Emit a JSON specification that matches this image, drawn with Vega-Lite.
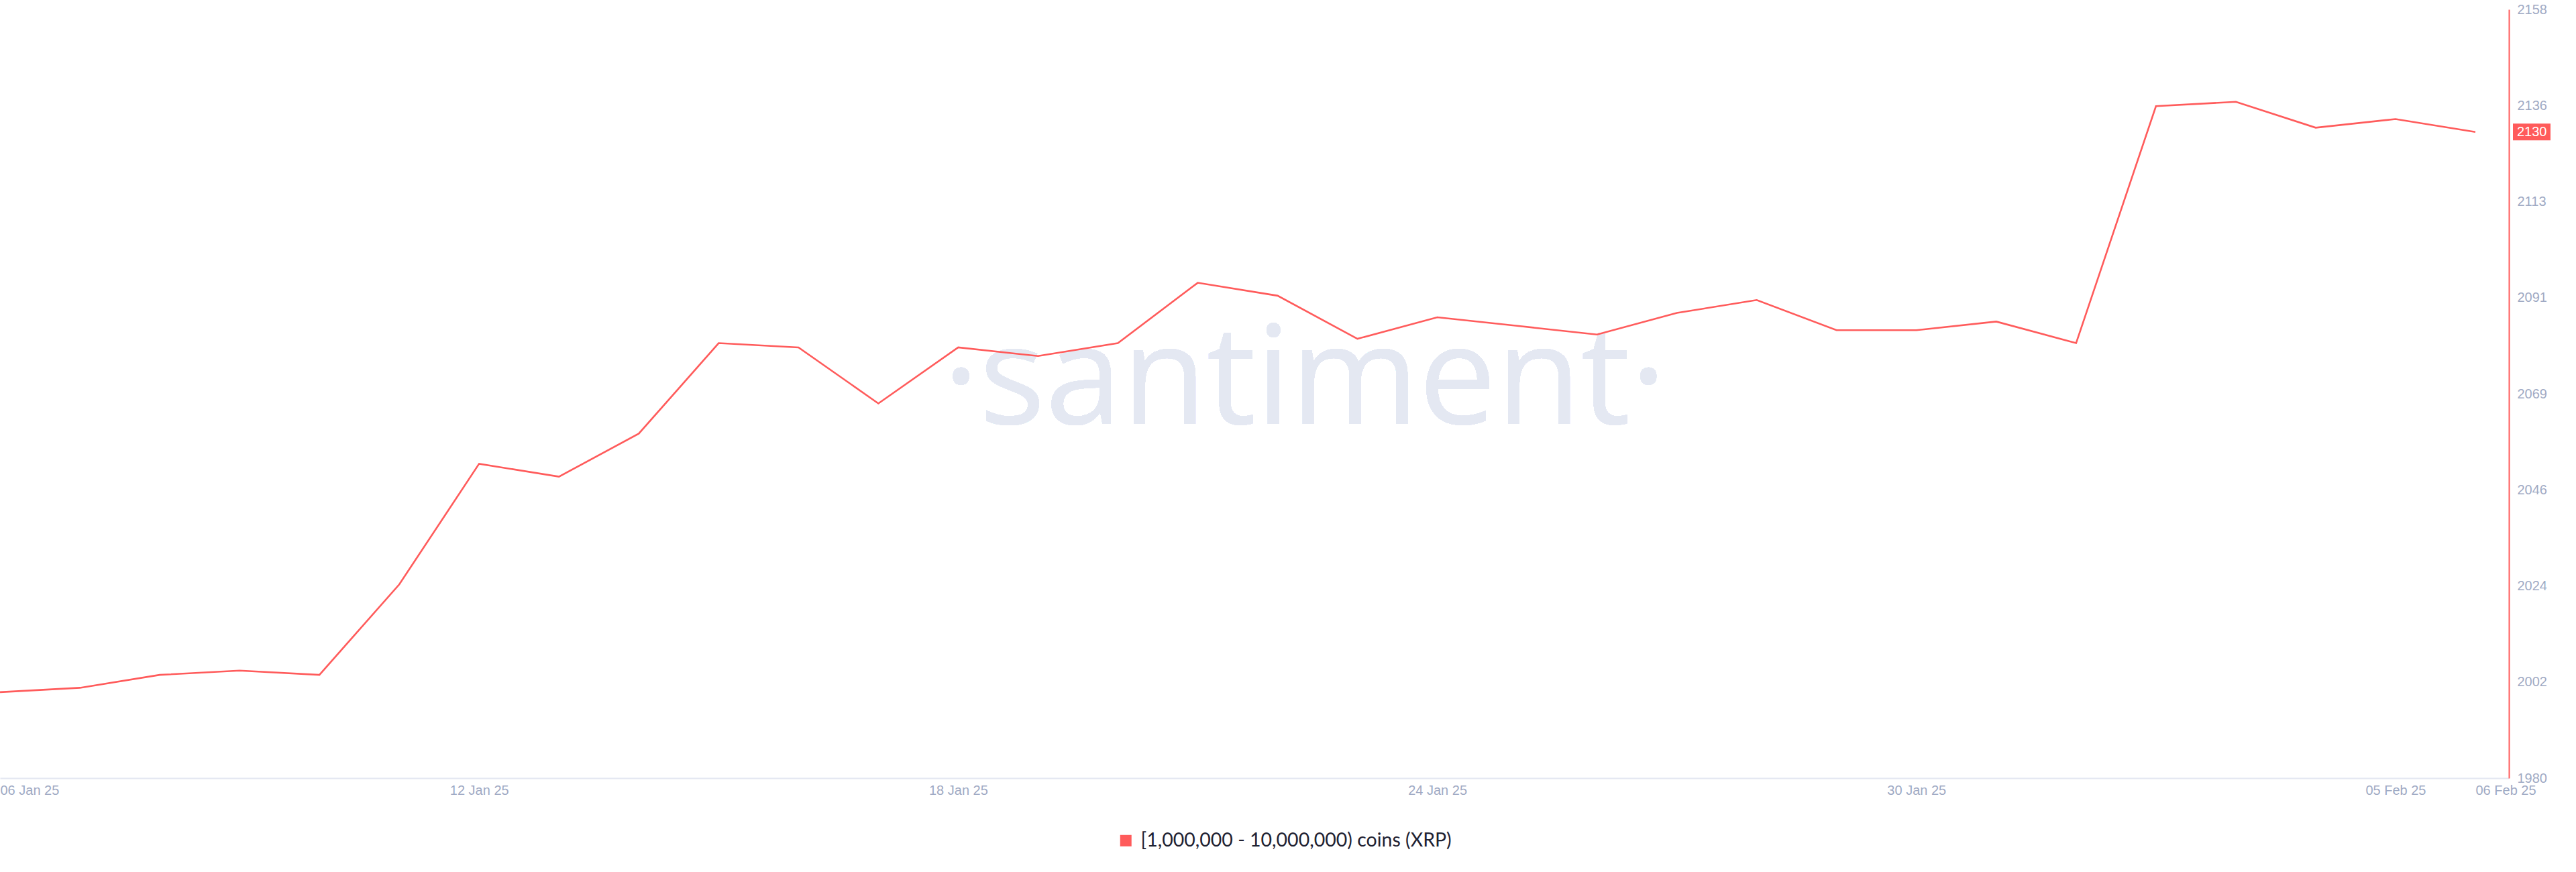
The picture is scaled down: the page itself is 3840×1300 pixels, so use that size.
{
  "$schema": "https://vega.github.io/schema/vega-lite/v6.json",
  "width": 3740,
  "height": 1146,
  "autosize": {"type": "none"},
  "padding": {"left": 0, "top": 14, "right": 100, "bottom": 140},
  "background": "white",
  "data": {
    "values": [
      {"date": "2025-01-06", "value": 2000},
      {"date": "2025-01-07", "value": 2001},
      {"date": "2025-01-08", "value": 2004},
      {"date": "2025-01-09", "value": 2005},
      {"date": "2025-01-10", "value": 2004},
      {"date": "2025-01-11", "value": 2025},
      {"date": "2025-01-12", "value": 2053},
      {"date": "2025-01-13", "value": 2050},
      {"date": "2025-01-14", "value": 2060},
      {"date": "2025-01-15", "value": 2081},
      {"date": "2025-01-16", "value": 2080},
      {"date": "2025-01-17", "value": 2067},
      {"date": "2025-01-18", "value": 2080},
      {"date": "2025-01-19", "value": 2078},
      {"date": "2025-01-20", "value": 2081},
      {"date": "2025-01-21", "value": 2095},
      {"date": "2025-01-22", "value": 2092},
      {"date": "2025-01-23", "value": 2082},
      {"date": "2025-01-24", "value": 2087},
      {"date": "2025-01-25", "value": 2085},
      {"date": "2025-01-26", "value": 2083},
      {"date": "2025-01-27", "value": 2088},
      {"date": "2025-01-28", "value": 2091},
      {"date": "2025-01-29", "value": 2084},
      {"date": "2025-01-30", "value": 2084},
      {"date": "2025-01-31", "value": 2086},
      {"date": "2025-02-01", "value": 2081},
      {"date": "2025-02-02", "value": 2136},
      {"date": "2025-02-03", "value": 2137},
      {"date": "2025-02-04", "value": 2131},
      {"date": "2025-02-05", "value": 2133},
      {"date": "2025-02-06", "value": 2130}
    ]
  },
  "encoding": {
    "x": {
      "field": "date",
      "type": "temporal",
      "title": null,
      "scale": {
        "type": "utc",
        "domain": [
          {"year": 2025, "month": 1, "date": 6, "utc": true},
          {"year": 2025, "month": 2, "date": 6, "hours": 10, "minutes": 5, "utc": true}
        ]
      },
      "axis": {
        "values": [
          {"year": 2025, "month": 1, "date": 6, "utc": true},
          {"year": 2025, "month": 1, "date": 12, "utc": true},
          {"year": 2025, "month": 1, "date": 18, "utc": true},
          {"year": 2025, "month": 1, "date": 24, "utc": true},
          {"year": 2025, "month": 1, "date": 30, "utc": true},
          {"year": 2025, "month": 2, "date": 5, "utc": true},
          {"year": 2025, "month": 2, "date": 6, "utc": true}
        ],
        "format": "%d %b %y",
        "grid": false,
        "ticks": false,
        "domainColor": "#e3e7f1",
        "domainWidth": 2,
        "labelColor": "#9faac4",
        "labelFont": "Liberation Sans",
        "labelFontSize": 20,
        "labelPadding": 8,
        "labelOverlap": false,
        "labelFlush": false,
        "labelAlign": {
          "condition": {"test": "datum.value < utc(2025, 0, 7) || datum.value >= utc(2025, 1, 6)", "value": "left"},
          "value": "center"
        }
      }
    },
    "y": {
      "field": "value",
      "type": "quantitative",
      "title": null,
      "scale": {"domain": [1980.05, 2158.45], "nice": false, "zero": false},
      "axis": {
        "orient": "right",
        "values": [1980.05, 2002.35, 2024.65, 2046.95, 2069.25, 2091.55, 2113.85, 2136.15, 2158.45],
        "labelExpr": "floor(datum.value)",
        "grid": false,
        "ticks": false,
        "domainColor": "#ff5b5b",
        "domainWidth": 2,
        "labelColor": "#9faac4",
        "labelFont": "Liberation Sans",
        "labelFontSize": 20,
        "labelPadding": 12,
        "labelAlign": "left",
        "labelBaseline": "middle",
        "labelOverlap": false,
        "labelFlush": false
      }
    }
  },
  "layer": [
    {
      "mark": {
        "type": "text",
        "font": "Open Sans",
        "fontSize": 206,
        "color": "#e4e8f2",
        "align": "center",
        "baseline": "alphabetic"
      },
      "encoding": {
        "x": {"datum": {"year": 2025, "month": 1, "date": 22, "hours": 8, "minutes": 10, "utc": true}, "type": "temporal"},
        "y": {"datum": 2062.2},
        "text": {"value": "·santiment·"}
      }
    },
    {
      "mark": {"type": "line", "strokeWidth": 2.6, "interpolate": "linear"},
      "encoding": {
        "color": {
          "datum": "[1,000,000 - 10,000,000) coins (XRP)",
          "scale": {"range": ["#ff5b5b"]},
          "legend": {
            "orient": "none",
            "legendX": 1664,
            "legendY": 1225,
            "title": null,
            "symbolType": "square",
            "symbolSize": 289,
            "symbolFillColor": "#ff5b5b",
            "symbolStrokeWidth": 0,
            "labelFont": "Lato",
            "labelFontSize": 28.5,
            "labelColor": "#1f2232",
            "labelOffset": 8,
            "labelLimit": 0
          }
        }
      }
    },
    {
      "transform": [{"filter": "time(datum.date) === utc(2025, 1, 6)"}],
      "mark": {
        "type": "point",
        "filled": true,
        "opacity": 1,
        "color": "#ff5b5b",
        "size": 4,
        "shape": "M6,-12.5L62,-12.5L62,12.5L6,12.5Z"
      },
      "encoding": {
        "x": {"datum": {"year": 2025, "month": 2, "date": 6, "hours": 10, "minutes": 5, "utc": true}, "type": "temporal"}
      }
    },
    {
      "transform": [{"filter": "time(datum.date) === utc(2025, 1, 6)"}],
      "mark": {
        "type": "text",
        "color": "white",
        "font": "Liberation Sans",
        "fontSize": 20,
        "align": "left",
        "baseline": "middle",
        "dx": 12
      },
      "encoding": {
        "x": {"datum": {"year": 2025, "month": 2, "date": 6, "hours": 10, "minutes": 5, "utc": true}, "type": "temporal"},
        "text": {"field": "value", "type": "quantitative", "format": "d"}
      }
    }
  ],
  "config": {"view": {"stroke": null}}
}
